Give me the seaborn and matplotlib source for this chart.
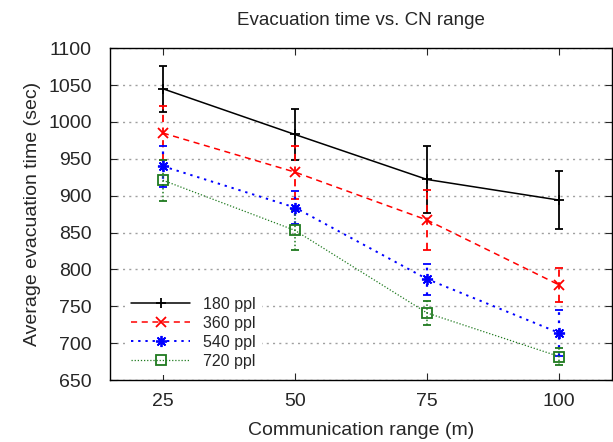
import matplotlib
matplotlib.use('Agg')
import matplotlib.pyplot as plt
from matplotlib.lines import Line2D
import seaborn as sns
import pandas as pd

# Data
ranges = [25, 50, 75, 100]
groups = ['180 ppl', '360 ppl', '540 ppl', '720 ppl']

time_180 = [1045, 983, 922, 894]
time_360 = [985, 932, 867, 779]
time_540 = [940, 884, 787, 714]
time_720 = [921, 853, 741, 682]

err_180 = [31, 34, 45, 39]
err_360 = [36, 36, 41, 23]
err_540 = [28, 22, 21, 31]
err_720 = [28, 27, 16, 12]

df = pd.DataFrame({
    'range': ranges * 4,
    'time': time_180 + time_360 + time_540 + time_720,
    'err': err_180 + err_360 + err_540 + err_720,
    'group': [g for g in groups for _ in ranges],
})

sns.set_style('ticks')
plt.rcParams['font.family'] = ['Liberation Sans', 'DejaVu Sans']

styles = {
    '180 ppl': dict(color='black', ls='-', marker='+', ms=7, lw=1.1),
    '360 ppl': dict(color='red', ls=(0, (4, 3)), marker='x', ms=6.5, lw=1.1),
    '540 ppl': dict(color='blue', ls=(0, (1.2, 2.5)), marker=(8, 2, 0), ms=8, lw=1.4),
    '720 ppl': dict(color='#1f7a1f', ls=(0, (1, 1.5)), marker='s', ms=6.5, lw=0.9),
}

fig = plt.figure(figsize=(6.13, 4.42), dpi=100)
ax = fig.add_axes([0.1794, 0.140, 0.8190, 0.751])

handles = []
for g in groups:
    sub = df[df['group'] == g]
    st = styles[g]
    eb = ax.errorbar(sub['range'], sub['time'], yerr=sub['err'],
                     color=st['color'], ls=st['ls'], lw=st['lw'],
                     marker=st['marker'], ms=st['ms'], mfc='none',
                     mew=1.3, capsize=2.7, elinewidth=st['lw'] + 0.2)
    eb[-1][0].set_linestyle(st['ls'])
    handles.append(Line2D([], [], color=st['color'], ls=st['ls'], lw=st['lw'],
                          marker=st['marker'], ms=st['ms'], mfc='none',
                          mew=1.3, label=g))

ax.set_xlim(15, 110)
ax.set_ylim(650, 1100)
ax.set_xticks(ranges)
ax.set_yticks(range(650, 1101, 50))
ax.tick_params(direction='in', length=5, labelsize=14, top=True, right=True)
ax.tick_params(axis='x', pad=9)
ax.tick_params(axis='y', pad=13)
ax.yaxis.grid(True, color='#a0a0a0', ls=(0, (1.5, 3)), lw=1)
for s in ax.spines.values():
    s.set_linewidth(1)
    s.set_color('black')

ax.set_title('Evacuation time vs. CN range', fontsize=13.5, pad=17)
ax.set_xlabel('Communication range (m)', fontsize=14, labelpad=9)
ax.set_ylabel('Average evacuation time (sec)', fontsize=14, labelpad=5)

leg = ax.legend(handles=handles, loc='lower left', bbox_to_anchor=(0.02, 0.0),
                frameon=True, fontsize=11.5, handlelength=3.7, numpoints=1,
                labelspacing=0.25, borderaxespad=0.3)
leg.get_frame().set_edgecolor('none')
leg.get_frame().set_facecolor('white')
leg.get_frame().set_alpha(1)

fig.savefig('out.png', dpi=100)
